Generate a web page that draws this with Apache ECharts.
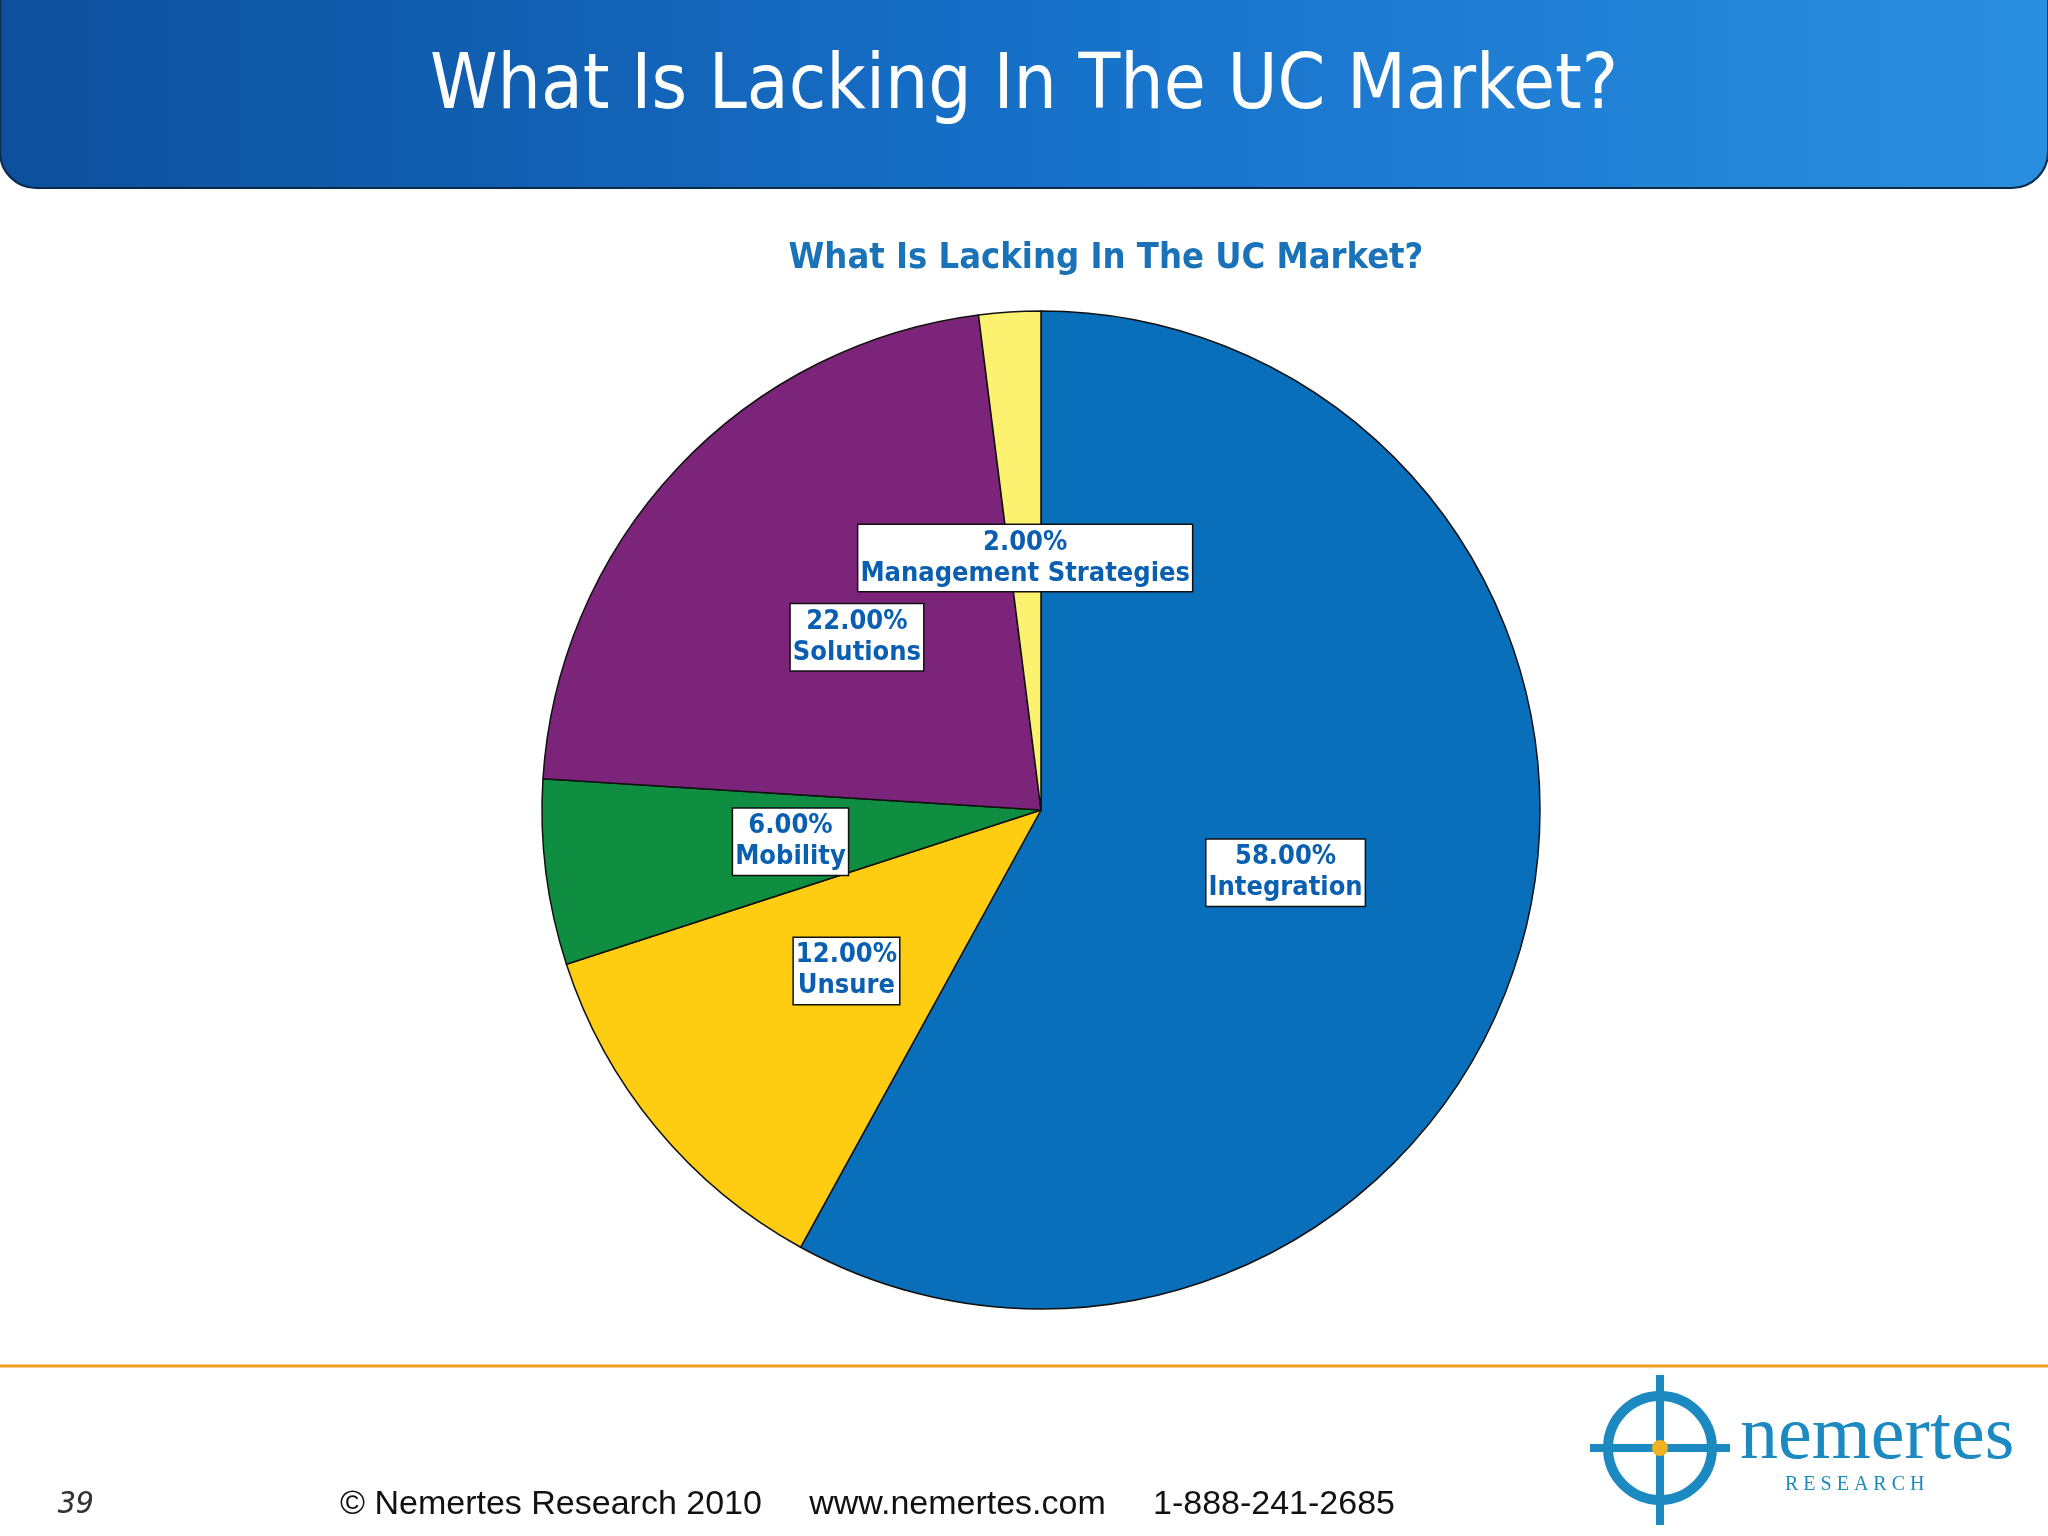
<!DOCTYPE html>
<html><head><meta charset="utf-8">
<script src="https://cdn.jsdelivr.net/npm/echarts@6/dist/echarts.min.js"></script>
<style>html,body{margin:0;padding:0;background:#fff}#c{width:2048px;height:1536px}</style>
</head><body><div id="c"></div>
<script>
// slice data, clockwise from 12 o'clock
const categories = ['Integration', 'Unsure', 'Mobility', 'Solutions', 'Management Strategies'];
const shares = [58, 12, 6, 22, 2];
const colors = ['#0a6fbb', '#fecc10', '#0f8d41', '#7b2479', '#fdf26f'];

const chart = echarts.init(document.getElementById('c'));

const option = {
  backgroundColor: '#fff',
  title: {
    text: 'What Is Lacking In The UC Market?',
    left: 1101, top: 236, textAlign: 'center',
    textStyle: { color: '#1a72b8', fontSize: 36, fontWeight: 'bold', fontFamily: 'DejaVu Sans Condensed' }
  },
  graphic: [
    {
      type: 'rect', shape: { x: 0, y: -20, width: 2048, height: 208, r: [0, 0, 36, 36] },
      style: {
        fill: new echarts.graphic.LinearGradient(0, 0, 1, 0, [
          { offset: 0, color: '#0d4f9c' }, { offset: 0.5, color: '#1670c8' }, { offset: 1, color: '#2a8ee0' }
        ]),
        stroke: '#0b2a4a', lineWidth: 2
      }
    },
    {
      type: 'text', left: 'center', top: 50,
      style: { text: 'What Is Lacking In The UC Market?', fill: '#fff', fontSize: 76, fontFamily: 'DejaVu Sans Condensed' }
    },
    { type: 'line', shape: { x1: 0, y1: 1366, x2: 2048, y2: 1366 }, style: { stroke: '#f0a020', lineWidth: 3 } },
    { type: 'text', left: 58, top: 1490, style: { text: '39', fill: '#333', fontSize: 30, fontStyle: 'italic', fontFamily: 'DejaVu Sans Mono' } },
    { type: 'text', left: 340, top: 1488, style: { text: '© Nemertes Research 2010     www.nemertes.com     1-888-241-2685', fill: '#111', fontSize: 34, fontFamily: 'Liberation Sans' } },
    { type: 'circle', shape: { cx: 1660, cy: 1448, r: 52 }, style: { fill: 'none', stroke: '#1c8ac0', lineWidth: 10 } },
    { type: 'line', shape: { x1: 1590, y1: 1448, x2: 1730, y2: 1448 }, style: { stroke: '#1c8ac0', lineWidth: 8 } },
    { type: 'line', shape: { x1: 1660, y1: 1375, x2: 1660, y2: 1525 }, style: { stroke: '#1c8ac0', lineWidth: 8 } },
    { type: 'circle', shape: { cx: 1660, cy: 1448, r: 8 }, style: { fill: '#f0b020' } },
    { type: 'text', left: 1740, top: 1400, style: { text: 'nemertes', fill: '#1c8ac0', fontSize: 76, fontFamily: 'Liberation Serif' } },
    { type: 'text', left: 1785, top: 1475, style: { text: 'R E S E A R C H', fill: '#1c8ac0', fontSize: 20, fontFamily: 'Liberation Serif' } }
  ],
  series: [{
    type: 'pie',
    center: [1041, 810],
    radius: [0, 499],
    startAngle: 90,
    clockwise: true,
    avoidLabelOverlap: false,
    data: categories.map((n, i) => ({ name: n, value: shares[i], itemStyle: { color: colors[i] } })),
    itemStyle: { borderColor: '#111', borderWidth: 1.5 },
    label: {
      position: 'inside',
      formatter: p => p.value.toFixed(2) + '%\n' + p.name,
      color: '#0a5fb0', fontSize: 27, fontWeight: 'bold', lineHeight: 31,
      fontFamily: 'DejaVu Sans Condensed',
      backgroundColor: '#fff', borderColor: '#111', borderWidth: 1.5, padding: [2, 2]
    },
    labelLine: { show: false },
    emphasis: { disabled: true }
  }]
};

chart.setOption(option);
</script></body></html>
